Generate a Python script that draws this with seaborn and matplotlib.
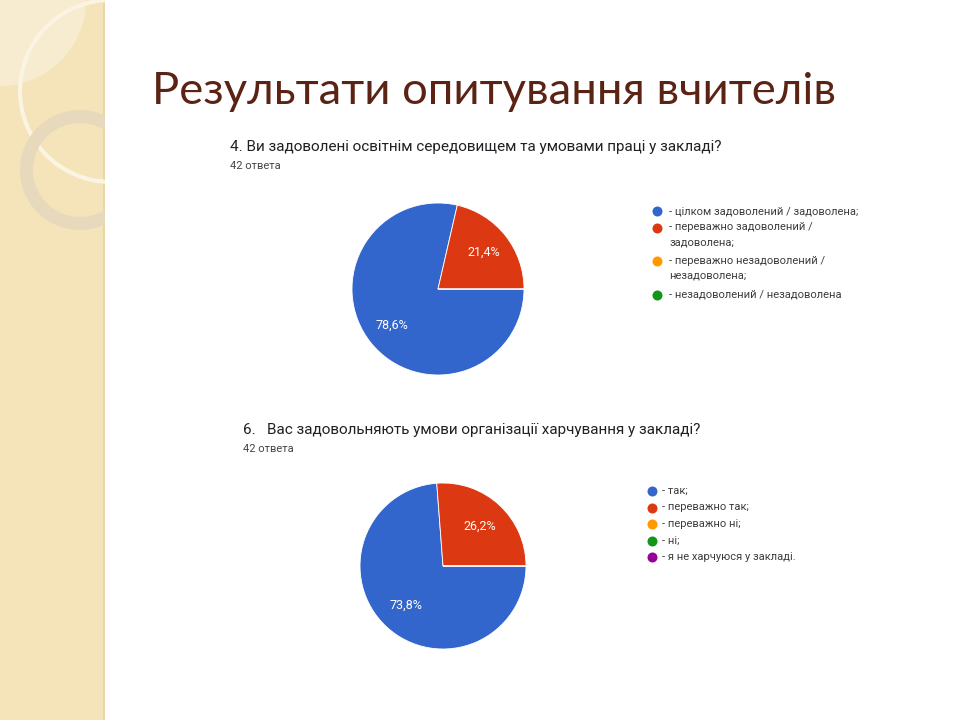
import matplotlib.pyplot as plt
import seaborn as sns
from matplotlib.patches import Rectangle, Circle, Wedge

sns.set_style("white")
plt.rcParams['font.family'] = ['Roboto', 'DejaVu Sans']

title = "Результати опитування вчителів"

q4_title = "4. Ви задоволені освітнім середовищем та умовами праці у закладі?"
q4_labels = ["- цілком задоволений / задоволена;",
             "- переважно задоволений /\nзадоволена;",
             "- переважно незадоволений /\nнезадоволена;",
             "- незадоволений / незадоволена"]
q4_values = [78.6, 21.4, 0, 0]

q6_title = "6.   Вас задовольняють умови організації харчування у закладі?"
q6_labels = ["- так;", "- переважно так;", "- переважно ні;", "- ні;",
             "- я не харчуюся у закладі."]
q6_values = [73.8, 26.2, 0, 0, 0]

answers = "42 ответа"

colors = sns.color_palette(["#3366CC", "#DC3912", "#FF9900", "#109618", "#990099"])

W, H = 960, 720
fig = plt.figure(figsize=(9.6, 7.2), dpi=100)
fig.patch.set_facecolor("white")

# decorative left strip (pixel coordinates)
deco = fig.add_axes([0, 0, 1, 1], zorder=-1)
deco.set_xlim(0, W)
deco.set_ylim(H, 0)
deco.axis("off")
strip = Rectangle((0, 0), 105, H, color="#F5E4BA", lw=0)
deco.add_patch(strip)
deco.add_patch(Rectangle((103, 0), 2.5, H, color="#E9D7A8", lw=0))
deco.add_patch(Wedge((0, 0), 86, 0, 90, color="#F8ECD0", lw=0))
deco.add_patch(Circle((111, 91), 91, fill=False, ec="#FBF4E2", lw=3))
deco.add_patch(Wedge((80, 170), 60, 0, 360, width=13, color="#E6D9BC", lw=0))
for p in deco.patches[1:]:
    p.set_clip_path(strip)

fig.text(152 / W, 1 - 92 / H, title, fontsize=32.7, color="#5B2313",
         family=["Lato", "DejaVu Sans"], va="center", ha="left")


def pct(p):
    return f"{p:.1f}%".replace(".", ",") if p > 1 else ""


def draw_pie(values, cx, cy, r, pdist, qtitle, qx, qy, labels, mx, my, tx):
    ax = fig.add_axes([(cx - r) / W, 1 - (cy + r) / H, 2 * r / W, 2 * r / H])
    ax.pie(values, colors=colors[:len(values)], startangle=0, counterclock=False,
           autopct=pct, pctdistance=pdist, radius=1,
           wedgeprops=dict(edgecolor="white", linewidth=0.6),
           textprops=dict(color="white", fontsize=9))
    ax.set_xlim(-1, 1)
    ax.set_ylim(-1, 1)
    ax.axis("off")
    fig.text(qx / W, 1 - qy / H, qtitle, fontsize=11, color="#202124",
             va="center", ha="left")
    fig.text(qx / W, 1 - (qy + 19) / H, answers, fontsize=8, color="#444444",
             va="center", ha="left")
    # legend: marker aligned with the first line of each entry
    y = my
    for c, lab in zip(colors, labels):
        deco.scatter([mx], [y], s=52, color=c, lw=0, zorder=3)
        deco.text(tx, y - 5, lab, fontsize=8, color="#3c3c3c", va="top",
                  ha="left", linespacing=1.6)
        y += 16.5 + 17 * lab.count("\n")


draw_pie(q4_values, 438, 289, 86, 0.68, q4_title, 230, 147,
         q4_labels, 657, 211, 669)
draw_pie(q6_values, 443, 566, 83, 0.65, q6_title, 243, 430,
         q6_labels, 652, 491, 662)

fig.savefig("out.png", dpi=100)
